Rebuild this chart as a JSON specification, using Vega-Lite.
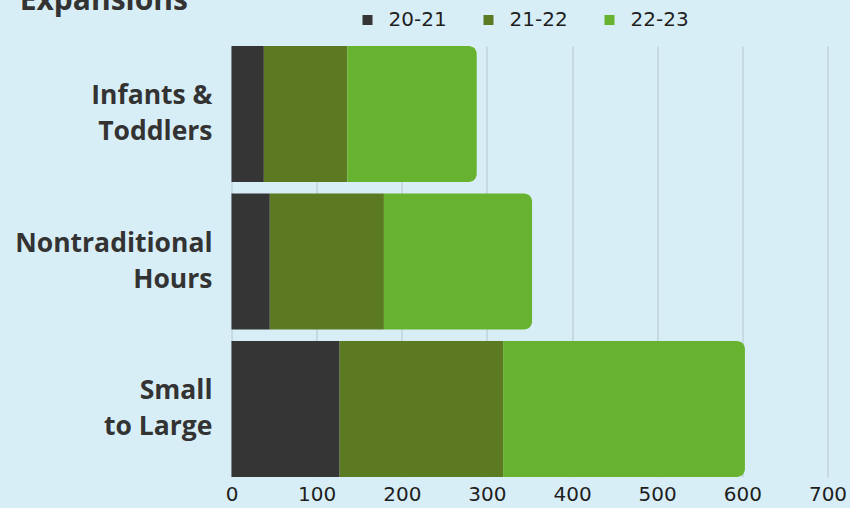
{
  "$schema": "https://vega.github.io/schema/vega-lite/v6.json",
  "width": 596,
  "height": 431,
  "autosize": {"type": "none"},
  "padding": {"left": 231.5, "top": 46, "right": 22.5, "bottom": 31},
  "background": "#d8eef6",
  "title": {
    "text": "Expansions",
    "anchor": "start",
    "frame": "bounds",
    "orient": "top",
    "baseline": "alphabetic",
    "offset": 0,
    "dy": 30,
    "dx": 5,
    "font": "Open Sans",
    "fontSize": 30,
    "fontWeight": "bold",
    "color": "#333333"
  },
  "config": {
    "view": {"stroke": null},
    "font": "Open Sans"
  },
  "data": {
    "values": [
      {"category": "Infants & Toddlers", "period": "20-21", "value": 38},
      {"category": "Infants & Toddlers", "period": "21-22", "value": 98},
      {"category": "Infants & Toddlers", "period": "22-23", "value": 152},
      {"category": "Nontraditional Hours", "period": "20-21", "value": 45},
      {"category": "Nontraditional Hours", "period": "21-22", "value": 134},
      {"category": "Nontraditional Hours", "period": "22-23", "value": 174},
      {"category": "Small to Large", "period": "20-21", "value": 127},
      {"category": "Small to Large", "period": "21-22", "value": 192},
      {"category": "Small to Large", "period": "22-23", "value": 284}
    ]
  },
  "transform": [
    {"stack": "value", "groupby": ["category"], "sort": [{"field": "period", "order": "ascending"}], "as": ["x0", "x1"]}
  ],
  "encoding": {
    "y": {
      "field": "category",
      "type": "nominal",
      "sort": ["Infants & Toddlers", "Nontraditional Hours", "Small to Large"],
      "scale": {"paddingInner": 0.078, "paddingOuter": 0},
      "axis": {
        "title": null,
        "domain": false,
        "ticks": false,
        "labelPadding": 19.5,
        "labelOffset": -18,
        "labelFont": "Open Sans",
        "labelFontSize": 26.5,
        "labelFontWeight": "bold",
        "labelColor": "#333333",
        "labelLineHeight": 36,
        "labelLimit": 300,
        "labelExpr": "datum.value == 'Infants & Toddlers' ? ['Infants &', 'Toddlers'] : datum.value == 'Nontraditional Hours' ? ['Nontraditional', 'Hours'] : ['Small', 'to Large']"
      }
    },
    "x": {
      "field": "x0",
      "type": "quantitative",
      "scale": {"domain": [0, 700], "nice": false},
      "axis": {
        "title": null,
        "values": [0, 100, 200, 300, 400, 500, 600, 700],
        "domain": false,
        "ticks": false,
        "grid": true,
        "gridColor": "#b4c6cf",
        "gridWidth": 1,
        "labelPadding": 7,
        "labelFont": "DejaVu Sans",
        "labelFontSize": 20,
        "labelColor": "#1e1e1e",
        "labelFlush": false
      }
    },
    "x2": {"field": "x1"},
    "color": {
      "field": "period",
      "type": "nominal",
      "scale": {"domain": ["20-21", "21-22", "22-23"], "range": ["#353535", "#5b7a22", "#67b32f"]},
      "legend": {
        "title": null,
        "orient": "none",
        "direction": "horizontal",
        "legendX": 126,
        "legendY": -36,
        "symbolType": "square",
        "symbolSize": 100,
        "symbolStrokeWidth": 0,
        "labelFont": "DejaVu Sans",
        "labelFontSize": 20,
        "labelColor": "#1e1e1e",
        "labelOffset": 11,
        "columnPadding": 31,
        "padding": 0
      }
    }
  },
  "layer": [
    {
      "transform": [{"filter": "datum.period != '22-23'"}],
      "mark": {"type": "bar"}
    },
    {
      "transform": [{"filter": "datum.period == '22-23'"}],
      "mark": {"type": "bar", "cornerRadiusTopRight": 8, "cornerRadiusBottomRight": 8}
    }
  ]
}
